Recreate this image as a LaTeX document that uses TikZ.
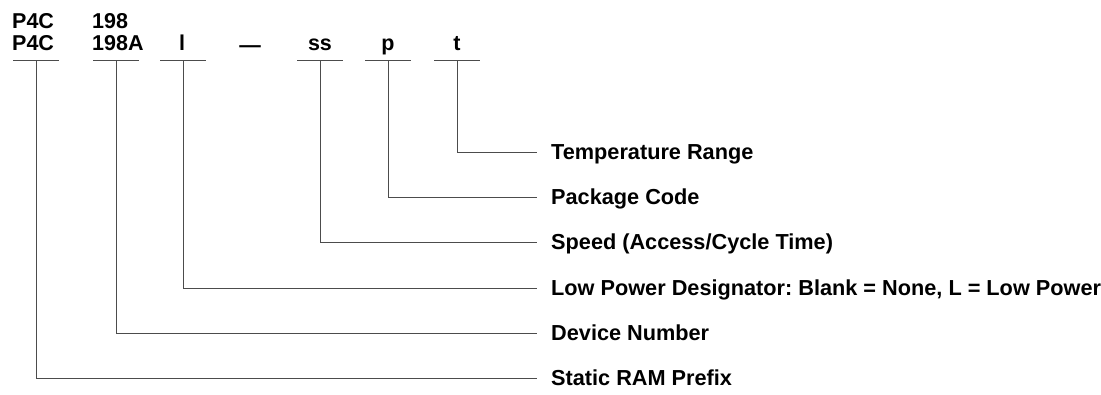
\documentclass[tikz,border=0pt]{standalone}
\usepackage{fontspec}
\setmainfont{Liberation Sans}
\frenchspacing
\begin{document}
\begin{tikzpicture}[x=1bp,y=-1bp,
  conn/.style={draw=black!70,line width=0.9bp},
  code/.style={inner sep=0pt,anchor=base,font=\fontsize{21.5bp}{22bp}\selectfont\bfseries},
  lab/.style={inner sep=0pt,anchor=base west,font=\fontsize{21.7bp}{23bp}\selectfont\bfseries}]
\useasboundingbox (0,0) rectangle (1101,394);
% code texts
\node[code,anchor=base west] (c1a) at (12,28) {P4C};
\node[code,anchor=base west] (c1) at (12,50) {P4C};
\node[code,anchor=base west] (c2a) at (92,28) {198};
\node[code,anchor=base west] (c2) at (92,50) {198A};
\node[code] (c3) at (182,50) {l};
\node[code] (cd) at (250,52) {—};
\node[code] (c4) at (320,50) {ss};
\node[code] (c5) at (388,50) {p};
\node[code] (c6) at (457,50) {t};
% underlines with their stems
\foreach \n/\x in {1/36,2/116,3/183,4/320,5/388,6/457}{
  \coordinate (u\n) at (\x,60);
  \draw[conn] (\x-23,60) -- (\x+23,60);
}
% line ends
\foreach \n/\y in {6/152,5/197,4/242,3/288,2/333,1/378}{
  \coordinate (e\n) at (537,\y);
}
\node[lab] (l6) at (551,159) {Temperature Range};
\node[lab] (l5) at (551,204) {Package Code};
\node[lab] (l4) at (551,249) {Speed (Access/Cycle Time)};
\node[lab] (l3) at (551,295) {Low Power Designator: Blank = None, L = Low Power};
\node[lab] (l2) at (551,340) {Device Number};
\node[lab] (l1) at (551,385) {Static RAM Prefix};
\foreach \n in {1,...,6}{
  \draw[conn] (u\n) |- (e\n);
}
\end{tikzpicture}
\end{document}
